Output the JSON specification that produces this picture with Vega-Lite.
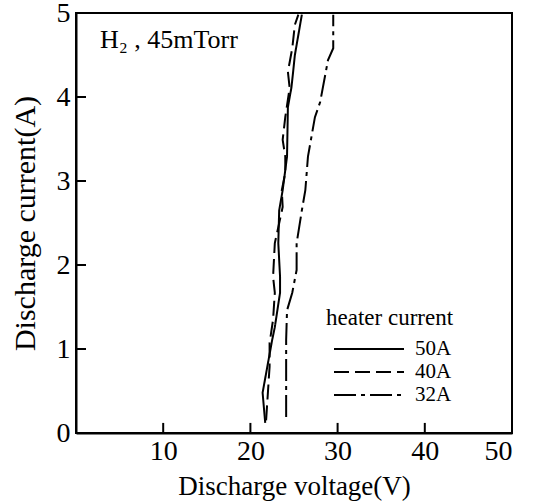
{
  "$schema": "https://vega.github.io/schema/vega-lite/v6.json",
  "width": 436,
  "height": 420,
  "autosize": "none",
  "padding": {"left": 76, "top": 13, "right": 28, "bottom": 71},
  "config": {
    "font": "Liberation Serif",
    "view": {"stroke": "black", "strokeWidth": 2},
    "axis": {
      "grid": false,
      "ticks": false,
      "domainColor": "black",
      "domainWidth": 2,
      "labelFont": "Liberation Serif",
      "labelFontSize": 28,
      "labelColor": "black",
      "titleFont": "Liberation Serif",
      "titleFontSize": 27,
      "titleFontWeight": "normal",
      "titleColor": "black"
    },
    "legend": {
      "titleFont": "Liberation Serif",
      "labelFont": "Liberation Serif",
      "titleFontSize": 23,
      "labelFontSize": 21,
      "titleFontWeight": "normal",
      "titleColor": "black",
      "labelColor": "black"
    }
  },
  "datasets": {
    "curves": [
      {"series": "50A", "V": 21.7, "I": 0.12},
      {"series": "50A", "V": 21.4, "I": 0.48},
      {"series": "50A", "V": 22.5, "I": 1.11},
      {"series": "50A", "V": 22.8, "I": 1.26},
      {"series": "50A", "V": 23.4, "I": 1.67},
      {"series": "50A", "V": 23.4, "I": 1.86},
      {"series": "50A", "V": 23.2, "I": 2.26},
      {"series": "50A", "V": 23.3, "I": 2.65},
      {"series": "50A", "V": 23.7, "I": 2.89},
      {"series": "50A", "V": 24.2, "I": 3.29},
      {"series": "50A", "V": 24.3, "I": 3.88},
      {"series": "50A", "V": 24.7, "I": 4.11},
      {"series": "50A", "V": 24.9, "I": 4.3},
      {"series": "50A", "V": 25.1, "I": 4.5},
      {"series": "50A", "V": 25.7, "I": 4.86},
      {"series": "50A", "V": 25.9, "I": 4.98},
      {"series": "40A", "V": 21.8, "I": 0.15},
      {"series": "40A", "V": 21.9, "I": 0.31},
      {"series": "40A", "V": 22.2, "I": 0.79},
      {"series": "40A", "V": 22.2, "I": 1.07},
      {"series": "40A", "V": 22.6, "I": 1.35},
      {"series": "40A", "V": 22.8, "I": 1.67},
      {"series": "40A", "V": 22.6, "I": 1.86},
      {"series": "40A", "V": 22.8, "I": 2.26},
      {"series": "40A", "V": 23.2, "I": 2.45},
      {"series": "40A", "V": 23.7, "I": 2.69},
      {"series": "40A", "V": 23.6, "I": 2.89},
      {"series": "40A", "V": 24.0, "I": 3.1},
      {"series": "40A", "V": 24.0, "I": 3.29},
      {"series": "40A", "V": 23.7, "I": 3.49},
      {"series": "40A", "V": 24.0, "I": 3.76},
      {"series": "40A", "V": 24.5, "I": 4.11},
      {"series": "40A", "V": 24.3, "I": 4.3},
      {"series": "40A", "V": 24.8, "I": 4.58},
      {"series": "40A", "V": 25.1, "I": 4.86},
      {"series": "40A", "V": 25.5, "I": 4.98},
      {"series": "32A", "V": 24.1, "I": 0.19},
      {"series": "32A", "V": 24.1, "I": 1.11},
      {"series": "32A", "V": 24.2, "I": 1.46},
      {"series": "32A", "V": 24.8, "I": 1.67},
      {"series": "32A", "V": 25.3, "I": 1.94},
      {"series": "32A", "V": 25.3, "I": 2.26},
      {"series": "32A", "V": 25.9, "I": 2.65},
      {"series": "32A", "V": 26.3, "I": 2.89},
      {"series": "32A", "V": 26.6, "I": 3.29},
      {"series": "32A", "V": 27.4, "I": 3.76},
      {"series": "32A", "V": 28.0, "I": 3.94},
      {"series": "32A", "V": 28.9, "I": 4.44},
      {"series": "32A", "V": 29.5, "I": 4.58},
      {"series": "32A", "V": 29.5, "I": 4.98}
    ],
    "note": [
      {"V": 2.75, "I": 4.58, "label": "H₂ , 45mTorr"}
    ],
    "xticks": [{"V": 10}, {"V": 20}, {"V": 30}, {"V": 40}],
    "yticks": [{"I": 1}, {"I": 2}, {"I": 3}, {"I": 4}]
  },
  "layer": [
    {
      "data": {"name": "curves"},
      "mark": {"type": "line", "color": "black", "strokeWidth": 2},
      "encoding": {
        "x": {
          "field": "V", "type": "quantitative",
          "scale": {"domain": [0, 50], "nice": false},
          "axis": {"values": [10, 20, 30, 40, 50], "format": "d", "title": "Discharge voltage(V)", "labelPadding": 4, "titlePadding": 8}
        },
        "y": {
          "field": "I", "type": "quantitative",
          "scale": {"domain": [0, 5], "nice": false},
          "axis": {"values": [0, 1, 2, 3, 4, 5], "format": "d", "title": "Discharge current(A)", "titleFontSize": 30, "labelPadding": 6, "titlePadding": 16}
        },
        "order": {"field": "I", "type": "quantitative"},
        "strokeDash": {
          "field": "series", "type": "nominal",
          "scale": {"domain": ["50A", "40A", "32A"], "range": [[1, 0], [15, 6], [22, 5, 4, 5]]},
          "legend": {
            "title": "heater current",
            "orient": "none",
            "legendX": 250,
            "legendY": 294,
            "padding": 0,
            "symbolType": "M-0.3,0H6.7",
            "symbolSize": 400,
            "symbolStrokeWidth": 2,
            "symbolStrokeColor": "black",
            "labelOffset": 67,
            "rowPadding": 2,
            "titlePadding": 8
          }
        }
      }
    },
    {
      "data": {"name": "xticks"},
      "mark": {"type": "rule", "color": "black", "strokeWidth": 2},
      "encoding": {
        "x": {"field": "V", "type": "quantitative"},
        "y": {"datum": 0, "type": "quantitative"},
        "y2": {"datum": 0.12}
      }
    },
    {
      "data": {"name": "yticks"},
      "mark": {"type": "rule", "color": "black", "strokeWidth": 2},
      "encoding": {
        "y": {"field": "I", "type": "quantitative"},
        "x": {"datum": 0, "type": "quantitative"},
        "x2": {"datum": 1.15}
      }
    },
    {
      "data": {"name": "note"},
      "mark": {"type": "text", "align": "left", "baseline": "alphabetic", "fontSize": 26, "font": "Liberation Serif", "color": "black"},
      "encoding": {
        "x": {"field": "V", "type": "quantitative"},
        "y": {"field": "I", "type": "quantitative"},
        "text": {"field": "label"}
      }
    }
  ]
}
